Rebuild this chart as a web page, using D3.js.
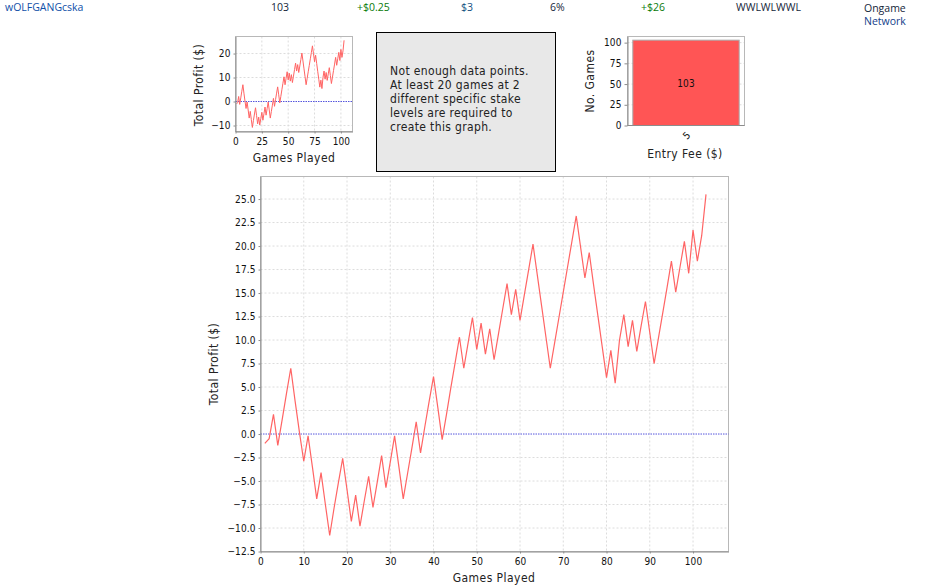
<!DOCTYPE html>
<html>
<head>
<meta charset="utf-8">
<script src="https://cdnjs.cloudflare.com/ajax/libs/d3/7.8.5/d3.min.js"></script>
<style>
html,body{margin:0;padding:0;background:#fff}
svg{display:block}
text{font-family:"DejaVu Sans",sans-serif;fill:#000}
.row{font-family:"Open Sans",sans-serif;font-size:10.5px}
.lbl{font-size:12px;font-stretch:condensed;letter-spacing:.45px;fill:#222}
.tick{font-size:10px;font-stretch:condensed;letter-spacing:.1px;fill:#111}
.msg{font-size:12px;font-stretch:condensed;letter-spacing:.35px;fill:#222}
</style>
</head>
<body>
<svg id="chart" width="935" height="588"></svg>
<script>
'use strict';

/* data */
const profit = [
  -1.0,-0.5,2.1,-1.2,1.5,4.3,7.0,3.5,0.2,-2.9,
  -0.2,-3.5,-6.9,-4.1,-7.5,-10.8,-7.9,-5.2,-2.6,-5.9,
  -9.3,-6.5,-9.8,-7.1,-4.5,-7.8,-5.1,-2.3,-5.7,-3.0,
  -0.2,-3.5,-6.9,-4.2,-1.5,1.3,-2.0,0.8,3.5,6.1,
  2.8,-0.6,2.1,4.9,7.6,10.3,7.0,9.7,12.4,9.0,
  11.8,8.5,11.2,7.9,10.6,13.3,16.0,12.7,15.4,12.1,
  14.8,17.5,20.2,16.9,13.6,10.3,7.0,9.7,12.4,15.1,
  17.8,20.5,23.2,19.9,16.6,19.3,15.9,12.6,9.3,6.0,
  8.9,5.4,10.0,12.7,9.3,12.1,8.8,11.5,14.1,10.8,
  7.5,10.2,12.9,15.6,18.4,15.1,17.8,20.5,17.1,21.7,
  18.4,21.1,25.5
];
const mainYTicks = [-12.5,-10,-7.5,-5,-2.5,0,2.5,5,7.5,10,12.5,15,17.5,20,22.5,25];
const mainXTicks = [0,10,20,30,40,50,60,70,80,90,100];
const smallYTicks = [-10,0,10,20];
const smallXTicks = [0,25,50,75,100];
const feeCats = ['5'];
const feeGames = [103];
const feeTicks = [0,25,50,75,100];
const rowCells = [
  {t:'wOLFGANGcska',x:5,c:'#0f4fa8'},
  {t:'103',x:271,c:'#14263a'},
  {t:'+$0.25',x:357,c:'#0a7a0a'},
  {t:'$3',x:461,c:'#14507f'},
  {t:'6%',x:550,c:'#14263a'},
  {t:'+$26',x:641,c:'#0a7a0a'},
  {t:'WWLWLWWL',x:736,c:'#14263a'}
];
const networkLines = ['Ongame','Network'];
const msgLines = ['Not enough data points.','At least 20 games at 2','different specific stake','levels are required to','create this graph.'];

const svg = d3.select('#chart');
const RED = '#ff5555';
const AXIS = '#8c8c8c';
const GRID = '#dcdcdc';

/* header row */
svg.selectAll('.cell').data(rowCells).enter().append('text')
  .attr('class','row cell').attr('x',d=>d.x).attr('y',11)
  .style('fill',d=>d.c).text(d=>d.t);
svg.selectAll('.net').data(networkLines).enter().append('text')
  .attr('class','row net').attr('x',864).attr('y',(d,i)=>12+i*13)
  .style('fill',(d,i)=>i?'#14408a':'#14263a').text(d=>d);

function styleAxis(a){
  a.attr('font-family',null).attr('font-size',null);
  a.selectAll('.domain').attr('stroke',AXIS);
  a.selectAll('.tick line').attr('stroke',AXIS);
  a.selectAll('.tick text').attr('class','tick').attr('font-family',null).attr('font-size',null);
}

/* line chart, used for both thumbnail and main plot */
function profitChart(o){
  const x = d3.scaleLinear().domain(o.xDomain).range([o.left,o.right]);
  const y = d3.scaleLinear().domain(o.yDomain).range([o.bottom,o.top]);
  const g = svg.append('g');

  g.append('g').selectAll('line').data(o.xTicks.filter(d=>d>0)).enter().append('line')
    .attr('x1',d=>x(d)).attr('x2',d=>x(d)).attr('y1',o.top).attr('y2',o.bottom)
    .attr('stroke',GRID).attr('stroke-dasharray','2,2');
  g.append('g').selectAll('line').data(o.yTicks.filter(d=>d!==0&&d!==o.yDomain[0])).enter().append('line')
    .attr('x1',o.left).attr('x2',o.right).attr('y1',d=>y(d)).attr('y2',d=>y(d))
    .attr('stroke',GRID).attr('stroke-dasharray','2,2');

  g.append('rect').attr('x',o.left).attr('y',o.top)
    .attr('width',o.right-o.left).attr('height',o.bottom-o.top)
    .attr('fill','none').attr('stroke','#b8b8b8');

  g.append('line').attr('x1',o.left).attr('x2',o.right).attr('y1',y(0)).attr('y2',y(0))
    .attr('stroke','#5555dd').attr('stroke-dasharray','1.5,1');

  const line = d3.line().x((d,i)=>x(i+1)).y(d=>y(d));
  g.append('path').datum(profit).attr('d',line)
    .attr('fill','none').attr('stroke','#ff6464').attr('stroke-width',o.lw).attr('stroke-linejoin','miter');

  const ax = d3.axisBottom(x).tickValues(o.xTicks).tickSizeInner(2).tickSizeOuter(0).tickPadding(o.xPad).tickFormat(d3.format('d'));
  const ay = d3.axisLeft(y).tickValues(o.yTicks).tickSizeInner(2).tickSizeOuter(0).tickPadding(3).tickFormat(o.yFormat);
  styleAxis(g.append('g').attr('transform',`translate(0,${o.bottom})`).call(ax));
  styleAxis(g.append('g').attr('transform',`translate(${o.left},0)`).call(ay));

  g.append('text').attr('class','lbl').attr('text-anchor','middle')
    .attr('x',o.xLabelX).attr('y',o.xLabelY).text('Games Played');
  g.append('text').attr('class','lbl').attr('text-anchor','middle')
    .attr('transform',`translate(${o.yLabelX},${o.yLabelMid}) rotate(-90)`).text('Total Profit ($)');
}

profitChart({
  left:235.5,right:352.5,top:36.5,bottom:131.5,
  xDomain:[0,111],yDomain:[-12.5,27.1],
  xTicks:smallXTicks,yTicks:smallYTicks,yFormat:d3.format('d'),
  xPad:4,xLabelX:294,xLabelY:162,yLabelX:203,yLabelMid:85,lw:1
});
profitChart({
  left:260.5,right:728.5,top:176.5,bottom:551.5,
  xDomain:[0,108.2],yDomain:[-12.5,27.4],
  xTicks:mainXTicks,yTicks:mainYTicks,yFormat:d3.format('.1f'),
  xPad:4,xLabelX:494,xLabelY:582,yLabelX:218,yLabelMid:364,lw:1.2
});

/* message box */
svg.append('rect').attr('x',376.5).attr('y',32.5).attr('width',179).attr('height',139)
  .attr('fill','#e8e8e8').attr('stroke','#000');
svg.selectAll('.msg').data(msgLines).enter().append('text')
  .attr('class','msg').attr('x',390).attr('y',(d,i)=>75+i*14).text(d=>d);

/* entry fee bar */
const bx = d3.scaleBand().domain(feeCats).range([627.5,744.5]).paddingInner(0).paddingOuter(0.05);
const by = d3.scaleLinear().domain([0,107.4]).range([125.5,36.5]);
svg.append('g').selectAll('line').data(feeTicks.filter(d=>d>0)).enter().append('line')
  .attr('x1',627.5).attr('x2',744.5).attr('y1',d=>by(d)).attr('y2',d=>by(d))
  .attr('stroke',GRID).attr('stroke-dasharray','2,2');
svg.append('rect').attr('x',627.5).attr('y',36.5).attr('width',117).attr('height',89)
  .attr('fill','none').attr('stroke','#b8b8b8');
svg.selectAll('.bar').data(feeGames).enter().append('rect')
  .attr('x',(d,i)=>bx(feeCats[i])).attr('width',bx.bandwidth())
  .attr('y',d=>by(d)).attr('height',d=>by(0)-by(d))
  .attr('fill',RED).attr('stroke','#aaa').attr('stroke-width',1);
svg.selectAll('.barlbl').data(feeGames).enter().append('text')
  .attr('class','tick barlbl').attr('text-anchor','middle')
  .attr('x',(d,i)=>bx(feeCats[i])+bx.bandwidth()/2).attr('y',87).text(d=>d);
styleAxis(svg.append('g').attr('transform','translate(627.5,0)')
  .call(d3.axisLeft(by).tickValues(feeTicks).tickSizeInner(3).tickSizeOuter(0).tickPadding(3)));
svg.append('line').attr('x1',627.5).attr('x2',744.5).attr('y1',125.5).attr('y2',125.5).attr('stroke',AXIS);
svg.append('text').attr('class','tick').attr('text-anchor','middle')
  .attr('transform','translate(689,138) rotate(-45)').text(feeCats[0]);
svg.append('text').attr('class','lbl').attr('text-anchor','middle')
  .attr('x',685).attr('y',158).text('Entry Fee ($)');
svg.append('text').attr('class','lbl').attr('text-anchor','middle')
  .attr('transform','translate(594,81) rotate(-90)').text('No. Games');
</script>
</body>
</html>
